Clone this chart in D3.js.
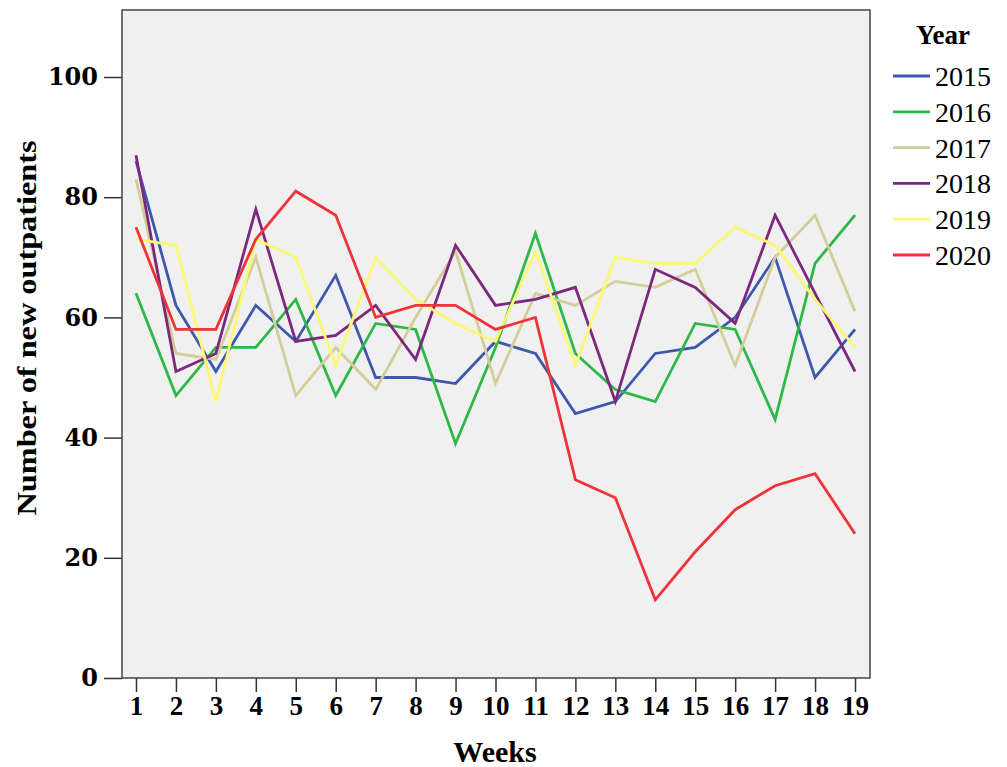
<!DOCTYPE html>
<html>
<head>
<meta charset="utf-8">
<script src="https://cdn.jsdelivr.net/npm/d3@7"></script>
<style>
  body { margin: 0; background: #fff; }
  text { font-family: "Liberation Serif", "DejaVu Serif", serif; }
</style>
</head>
<body>
<div id="chart"></div>
<script>
const width = 1007;
const height = 767;

const weeks = d3.range(1, 20);
const years = ["2015", "2016", "2017", "2018", "2019", "2020"];
const colors = ["#3e58ac", "#2eb848", "#d3ce97", "#7c287d", "#fbf873", "#ef3338"];
const yTicks = [0, 20, 40, 60, 80, 100];

const s2015 = [86, 62, 51, 62, 56, 67, 50, 50, 49, 56, 54, 44, 46, 54, 55, 60, 70, 50, 58];
const s2016 = [64, 47, 55, 55, 63, 47, 59, 58, 39, 55, 74, 54, 48, 46, 59, 58, 43, 69, 77];
const s2017 = [83, 54, 53, 70, 47, 55, 48, 60, 71, 49, 64, 62, 66, 65, 68, 52, 70, 77, 61];
const s2018 = [87, 51, 54, 78, 56, 57, 62, 53, 72, 62, 63, 65, 46, 68, 65, 59, 77, 64, 51];
const s2019 = [73, 72, 46, 73, 70, 52, 70, 63, 59, 56, 71, 52, 70, 69, 69, 75, 72, 63, 55];
const s2020 = [75, 58, 58, 73, 81, 77, 60, 62, 62, 58, 60, 33, 30, 13, 21, 28, 32, 34, 24];
const series = [s2015, s2016, s2017, s2018, s2019, s2020];

// frame of the plot
const frame = {left: 122, right: 870, top: 10, bottom: 678};

const svg = d3.select("#chart").append("svg")
  .attr("width", width)
  .attr("height", height);

const x = d3.scaleLinear().domain([1, 19]).range([136, 855]);
const y = d3.scaleLinear().domain([0, 100]).range([frame.bottom, 77]);

svg.append("rect")
  .attr("x", frame.left)
  .attr("y", frame.top)
  .attr("width", frame.right - frame.left)
  .attr("height", frame.bottom - frame.top)
  .attr("fill", "#f0f0f0")
  .attr("stroke", "#444")
  .attr("stroke-width", 1.5);

// y axis
const yAxis = svg.append("g")
  .attr("transform", `translate(${frame.left},0)`)
  .call(d3.axisLeft(y).tickValues(yTicks).tickSize(18).tickPadding(6));
yAxis.select(".domain").remove();
yAxis.selectAll("line").attr("stroke", "#333").attr("stroke-width", 1.5);
yAxis.selectAll("text")
  .attr("fill", "#000")
  .style("font-size", "24px")
  .style("font-weight", "bold")
  .style("font-family", "'DejaVu Serif', serif");

// x axis
const xAxis = svg.append("g")
  .attr("transform", `translate(0,${frame.bottom})`)
  .call(d3.axisBottom(x).tickValues(weeks).tickSize(14).tickPadding(4).tickFormat(d3.format("d")));
xAxis.select(".domain").remove();
xAxis.selectAll("line").attr("stroke", "#333").attr("stroke-width", 1.5);
xAxis.selectAll("text")
  .attr("fill", "#000")
  .style("font-size", "27px")
  .style("font-weight", "bold");

// axis titles
svg.append("text")
  .attr("transform", `translate(36,328) rotate(-90)`)
  .attr("text-anchor", "middle")
  .attr("textLength", 375)
  .attr("lengthAdjust", "spacingAndGlyphs")
  .style("font-size", "28px")
  .style("font-weight", "bold")
  .text("Number of new outpatients");

svg.append("text")
  .attr("x", 495)
  .attr("y", 762)
  .attr("text-anchor", "middle")
  .style("font-size", "30px")
  .style("font-weight", "bold")
  .text("Weeks");

// lines
const line = d3.line()
  .x((d, i) => x(weeks[i]))
  .y(d => y(d));

svg.append("g").selectAll("path")
  .data(series)
  .join("path")
  .attr("d", line)
  .attr("fill", "none")
  .attr("stroke", (d, i) => colors[i])
  .attr("stroke-width", 2.8)
  .attr("stroke-linejoin", "miter");

// legend
const legend = svg.append("g");
legend.append("text")
  .attr("x", 943)
  .attr("y", 44)
  .attr("text-anchor", "middle")
  .style("font-size", "27px")
  .style("font-weight", "bold")
  .text("Year");

const item = legend.selectAll("g.item")
  .data(years)
  .join("g")
  .attr("class", "item")
  .attr("transform", (d, i) => `translate(0,${76 + i * 35.8})`);
item.append("line")
  .attr("x1", 893).attr("x2", 930)
  .attr("y1", 0).attr("y2", 0)
  .attr("stroke", (d, i) => colors[i])
  .attr("stroke-width", 2.8);
item.append("text")
  .attr("x", 935)
  .attr("y", 10)
  .style("font-size", "28px")
  .text(d => d);
</script>
</body>
</html>
